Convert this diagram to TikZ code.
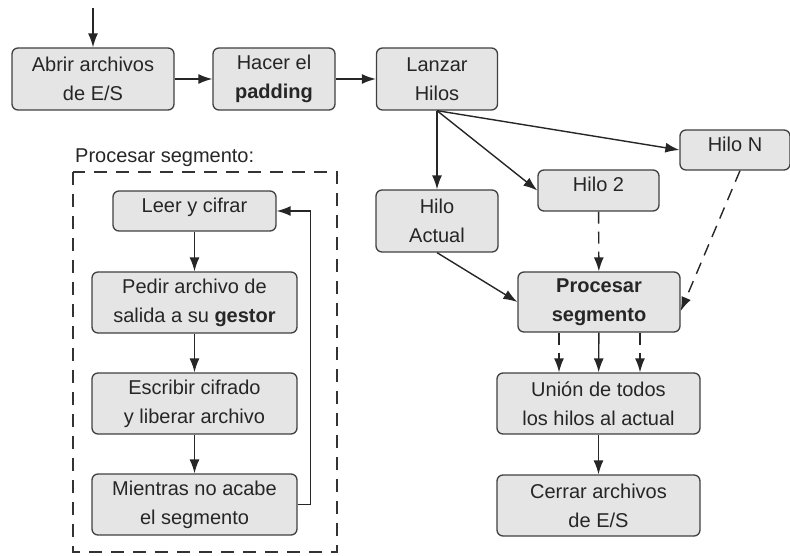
\documentclass[tikz,border=0pt]{standalone}
\usepackage{fontspec}
\setmainfont{Liberation Sans}
\usetikzlibrary{arrows.meta,positioning}
\tikzset{paso/.style={rectangle,rounded corners=6pt,draw=black!75,fill=black!10,line width=1.3pt,
                      align=center,inner sep=0pt,text=black!85,font=\fontsize{20}{29}\selectfont},
         unalinea/.style={text height=14pt,text depth=11pt},
         flecha/.style={->,line width=1.4pt,draw=black!85},
         discontinua/.style={dash pattern=on 12pt off 8pt},
         marco/.style={line width=1.3pt,draw=black!80,dash pattern=on 13pt off 9pt}
}

\begin{document}
\begin{tikzpicture}[x=1pt,y=-1pt,>={Latex[length=14pt,width=10pt]}]
\useasboundingbox (0,0) rectangle (790,556);
% fila de arriba
\coordinate (inicio) at (93,8);
\node[paso,minimum width=162,minimum height=62] (abrir) at (93,79) {Abrir archivos\\de E/S};
\node[paso,minimum width=122,minimum height=62] (padding) at (274,79) {Hacer el\\\textbf{padding}};
\node[paso,minimum width=121,minimum height=62] (lanzar) at (437,79) {Lanzar\\Hilos};
% hilos
\node[paso,minimum width=122,minimum height=62] (actual) at (437,221) {Hilo\\Actual};
\node[paso,unalinea,minimum width=121,minimum height=41] (hilo2) at (598.5,190.5) {Hilo 2};
\node[paso,unalinea,minimum width=110,minimum height=40] (hiloN) at (735,150) {Hilo N};
\node[paso,minimum width=162,minimum height=60] (procesar) at (599,302) {\textbf{Procesar}\\\textbf{segmento}};
\node[paso,minimum width=203,minimum height=61] (union) at (598.5,403.5) {Unión de todos\\los hilos al actual};
\node[paso,minimum width=203,minimum height=61] (cerrar) at (598.5,505.5) {Cerrar archivos\\de E/S};
% procesar segmento
\node[anchor=base west,inner sep=0pt,text=black!85,font=\fontsize{20}{24}\selectfont] (titulo) at (75,163) {Procesar segmento:};
\draw[marco] (73,172) rectangle (337,552);
\node[paso,unalinea,minimum width=163,minimum height=40] (leer) at (194.5,211) {Leer y cifrar};
\node[paso,minimum width=205,minimum height=61] (pedir) at (194.5,302.5) {Pedir archivo de\\salida a su \textbf{gestor}};
\node[paso,minimum width=205,minimum height=61] (escribir) at (194.5,403.5) {Escribir cifrado\\y liberar archivo};
\node[paso,minimum width=205,minimum height=61] (mientras) at (194.5,504.5) {Mientras no acabe\\el segmento};

\draw[flecha] (inicio) -- (abrir);
\draw[flecha] (abrir) -- (padding);
\draw[flecha] (padding) -- (lanzar);
\draw[flecha] (lanzar.south) -- (actual);
\draw[flecha] (lanzar.south) -- (hilo2.west);
\draw[flecha] (lanzar.south) -- (hiloN.west);
\draw[flecha] (actual.south) -- (procesar.west);
\draw[flecha,discontinua] (hilo2) -- (procesar);
\draw[flecha,discontinua] ([xshift=5]hiloN.south) -- ([yshift=-9]procesar.east);
\draw[flecha,discontinua] ([xshift=-40]procesar.south) -- ([xshift=-40]procesar.south |- union.north);
\draw[flecha] (procesar) -- (union);
\draw[flecha,discontinua] ([xshift=41]procesar.south) -- ([xshift=41]procesar.south |- union.north);
\draw[flecha] (union) -- (cerrar);

\draw[flecha] (leer) -- (pedir);
\draw[flecha] (pedir) -- (escribir);
\draw[flecha] (escribir) -- (mientras);
\draw[flecha] (mientras.east) -- ++(13,0) |- (leer.east);
\end{tikzpicture}
\end{document}
